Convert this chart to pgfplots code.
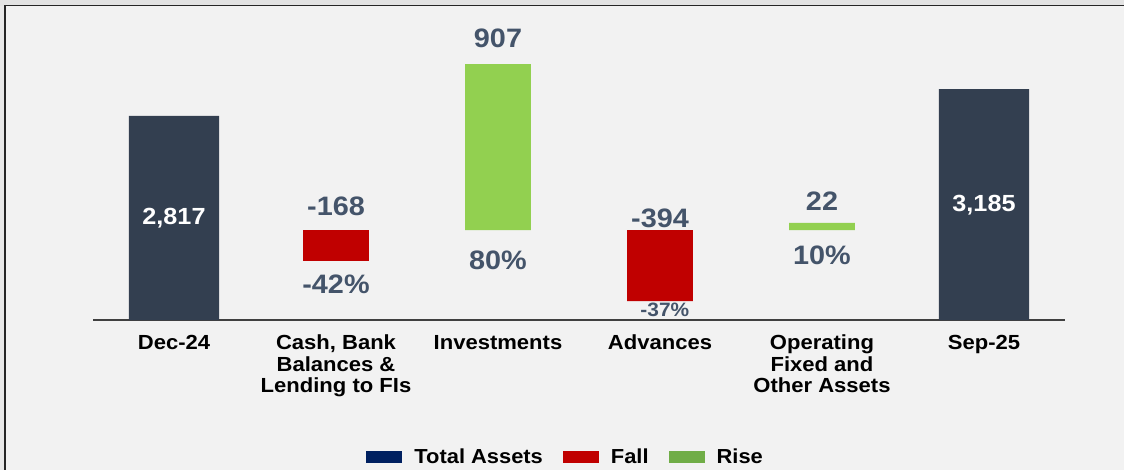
\documentclass[border=0pt]{standalone}
\usepackage{fontspec}
\setmainfont{Liberation Sans}[FakeStretch=1.08]
\usepackage{pgfplots}
\pgfplotsset{compat=1.18}

\definecolor{bgc}{HTML}{F2F2F2}
\definecolor{totc}{HTML}{333F50}
\definecolor{fallc}{HTML}{C00000}
\definecolor{risec}{HTML}{92D050}
\definecolor{labc}{HTML}{44546A}
\definecolor{legnavy}{HTML}{002060}
\definecolor{leggreen}{HTML}{70AD47}

\tikzset{
  vl/.style={font=\fontsize{20}{22}\selectfont\bfseries, text=labc, inner sep=0pt},
  tl/.style={font=\fontsize{17.5}{19}\selectfont\bfseries, text=white, inner sep=0pt},
}

\begin{document}
\begin{tikzpicture}
% screenshot frame, 1px = 0.75pt
\fill[bgc] (0,0) rectangle (843pt,-352.5pt);
\fill[gray!18] (0,0) rectangle (3.2pt,-352.5pt);
\shade[left color=gray!22, middle color=white, right color=gray!22] (0,0) rectangle (843pt,-3.8pt);
\draw[line width=1.1pt, black!85] (3.6pt,-352.5pt) -- (3.6pt,-4.3pt) -- (843pt,-4.3pt);

\begin{axis}[
  at={(69.75pt,-240pt)}, anchor=south west,
  scale only axis,
  width=729pt, height=225pt,
  xmin=-0.5, xmax=5.5,
  ymin=0, ymax=4138,
  ybar stacked,
  axis x line=bottom,
  axis y line=none,
  x axis line style={-, line width=1.4pt, black!75},
  xtick={0,...,5},
  xtick style={draw=none},
  xticklabels={Dec-24, {Cash, Bank\\Balances \&\\Lending to FIs}, Investments, Advances, {Operating\\Fixed and\\Other Assets}, Sep-25},
  xticklabel style={align=center, text=black, font=\fontsize{15.3}{16.1}\selectfont\bfseries, inner sep=0pt, yshift=-9pt},
  clip=false,
  legend style={draw=none, fill=none, at={(0.4866,-0.4567)}, anchor=center,
    legend columns=3, font=\fontsize{15.2}{16}\selectfont\bfseries,
    /tikz/every odd column/.append style={column sep=7pt},
    /tikz/every even column/.append style={column sep=13pt}},
  legend image code/.code={\path[#1] (0pt,-4.5pt) rectangle (27pt,4.5pt);},
]
% invisible floating base
\addplot[draw=none, fill=none, bar width=0.407, forget plot] coordinates {
  (0,0) (1,814) (2,1241) (3,262) (4,1241) (5,0)
};
% fall
\addplot[draw=none, fill=fallc, bar width=0.407, forget plot] coordinates {
  (0,0) (1,427) (2,0) (3,979) (4,0) (5,0)
};
% rise
\addplot[draw=none, fill=risec, bar width=0.407, forget plot] coordinates {
  (0,0) (1,0) (2,2290) (3,0) (4,97) (5,0)
};
% totals
\addplot[draw=none, fill=totc, bar width=0.556, forget plot] coordinates {
  (0,2817) (1,0) (2,0) (3,0) (4,0) (5,3185)
};

\addlegendimage{fill=legnavy, draw=none}
\addlegendentry{Total Assets}
\addlegendimage{fill=fallc, draw=none}
\addlegendentry{Fall}
\addlegendimage{fill=leggreen, draw=none}
\addlegendentry{Rise}

\node[vl] at (axis cs:2,3883) {907};
\node[vl] at (axis cs:1,1572) {-168};
\node[vl] at (axis cs:1,497) {-42\%};
\node[vl] at (axis cs:2,828) {80\%};
\node[vl] at (axis cs:3,1407) {-394};
\node[vl] at (axis cs:4,1641) {22};
\node[vl] at (axis cs:4,897) {10\%};
\node[vl, font=\fontsize{14.5}{16}\selectfont\bfseries] at (axis cs:3.03,138) {-37\%};
\coordinate (t0) at (axis cs:0,1407);
\coordinate (t5) at (axis cs:5,1586);
\end{axis}
\node[tl] at (t0) {2,817};
\node[tl] at (t5) {3,185};
\pgfresetboundingbox
\useasboundingbox (0,0) rectangle (843pt,-352.5pt);
\end{tikzpicture}
\end{document}
